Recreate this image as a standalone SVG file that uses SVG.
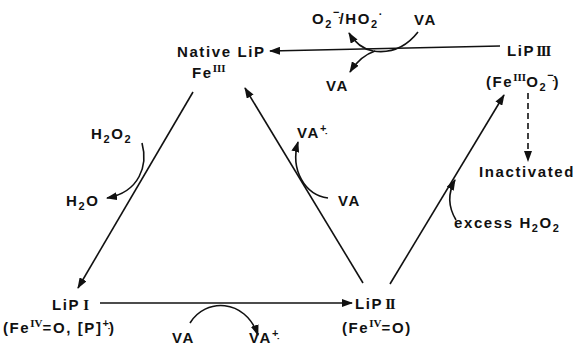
<svg xmlns="http://www.w3.org/2000/svg" width="576" height="345" viewBox="0 0 576 345">
<style>
  text { font-family: "Liberation Sans", Arial, sans-serif; font-weight: bold; font-size: 15px; fill: #111; letter-spacing: 1.6px; }
  .rn { font-family: "Liberation Serif", "Times New Roman", serif; font-weight: bold; letter-spacing: -1.2px; }
  .sup { font-size: 11px; letter-spacing: 0; }
  .sub { font-size: 11px; }
  .ln { fill: none; stroke: #111; stroke-width: 1.6; }
  .dash { stroke-dasharray: 6 4; }
</style>
<defs>
  <marker id="ah" markerWidth="11" markerHeight="8" refX="10" refY="4" orient="auto" markerUnits="userSpaceOnUse">
    <path d="M0,0 L11,4 L0,8 Z" fill="#111"/>
  </marker>
</defs>
<rect width="576" height="345" fill="#fff"/>

<g id="connectors">
  <path class="ln" d="M500,46 L270,51" marker-end="url(#ah)"/>
  <path class="ln" d="M418,32 Q400,55 373,51 Q358,48 349,33" marker-end="url(#ah)"/>
  <path class="ln" d="M375,51 Q360,56 350,72" marker-end="url(#ah)"/>
  <path class="ln dash" d="M528,93 L528,161" marker-end="url(#ah)"/>
  <path class="ln" d="M390,284 L504,95" marker-end="url(#ah)"/>
  <path class="ln" d="M456,220 Q444,200 455,180" marker-end="url(#ah)"/>
  <path class="ln" d="M193,92 L78,288" marker-end="url(#ah)"/>
  <path class="ln" d="M142,143 C148,165 140,192 107,198" marker-end="url(#ah)"/>
  <path class="ln" d="M363,283 L245,88" marker-end="url(#ah)"/>
  <path class="ln" d="M328,198 C305,195 290,170 298,142" marker-end="url(#ah)"/>
  <path class="ln" d="M100,303 L352,303" marker-end="url(#ah)"/>
  <path class="ln" d="M190,323 C205,298 245,298 258,335" marker-end="url(#ah)"/>
</g>

<g id="native-lip">
  <text x="177" y="57">Native LiP</text>
  <text x="192" y="78">Fe<tspan class="rn sup" font-size="12" dy="-6">III</tspan></text>
</g>

<g id="lip-iii">
  <text x="507" y="56">LiP<tspan class="rn" dx="1">III</tspan></text>
  <text x="486" y="87">(Fe<tspan class="rn sup" font-size="12" dy="-6">III</tspan><tspan dy="6">O</tspan><tspan class="sub" dy="4">2</tspan><tspan class="sup" dy="-12">−̣</tspan><tspan dy="8">)</tspan></text>
</g>

<g id="inactivated">
  <text x="479" y="177">Inactivated</text>
</g>

<g id="lip-i">
  <text x="52" y="310">LiP<tspan class="rn" dx="3">I</tspan></text>
  <text x="3" y="333">(Fe<tspan class="rn sup" font-size="12" dy="-6">IV</tspan><tspan dy="6">=O, [P]</tspan><tspan class="sup" dy="-6">+̣</tspan><tspan dy="6">)</tspan></text>
</g>

<g id="lip-ii">
  <text x="355" y="309">LiP<tspan class="rn" dx="2">II</tspan></text>
  <text x="342" y="333">(Fe<tspan class="rn sup" font-size="12" dy="-6">IV</tspan><tspan dy="6">=O)</tspan></text>
</g>

<g id="labels">
  <text x="312" y="24">O<tspan class="sub" dy="4">2</tspan><tspan class="sup" dy="-12">−̣</tspan><tspan dy="8">/HO</tspan><tspan class="sub" dy="4">2</tspan><tspan class="sup" dy="-10">·</tspan></text>
  <text x="414" y="25">VA</text>
  <text x="326" y="91">VA</text>
  <text x="91" y="139">H<tspan class="sub" dy="4">2</tspan><tspan dy="-4">O</tspan><tspan class="sub" dy="4">2</tspan></text>
  <text x="66" y="206">H<tspan class="sub" dy="4">2</tspan><tspan dy="-4">O</tspan></text>
  <text x="297" y="138">VA<tspan class="sup" dy="-6">+̣</tspan></text>
  <text x="338" y="206">VA</text>
  <text x="454" y="228">excess H<tspan class="sub" dy="4">2</tspan><tspan dy="-4">O</tspan><tspan class="sub" dy="4">2</tspan></text>
  <text x="172" y="343">VA</text>
  <text x="249" y="343">VA<tspan class="sup" dy="-6">+̣</tspan></text>
</g>
</svg>
